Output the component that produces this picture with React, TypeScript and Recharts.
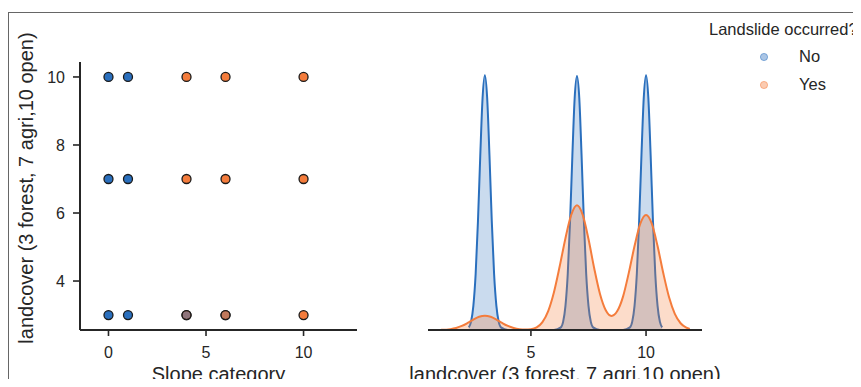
import React from "react";
import {
    ScatterChart,
    Scatter,
    AreaChart,
    Area,
    XAxis,
    YAxis
} from "recharts";

// scatter points (slope category vs landcover), one pair of arrays per group
const noSlope = [0, 1, 0, 1, 0, 1, 4, 6];
const noLandcover = [10, 10, 7, 7, 3, 3, 3, 3];
const yesSlope = [4, 6, 10, 4, 6, 10, 4, 6, 10];
const yesLandcover = [10, 10, 10, 7, 7, 7, 3, 3, 3];

// kde of landcover
const noKdeX = [
    2.3, 2.4, 2.5, 2.6, 2.7, 2.8, 2.9, 3.0, 3.1, 3.2, 3.3, 3.4, 3.5, 3.6, 3.7,
    4.0, 5.0, 6.0,
    6.3, 6.4, 6.5, 6.6, 6.7, 6.8, 6.9, 7.0, 7.1, 7.2, 7.3, 7.4, 7.5, 7.6, 7.7,
    8.0, 8.5, 9.0,
    9.3, 9.4, 9.5, 9.6, 9.7, 9.8, 9.9, 10.0, 10.1, 10.2, 10.3, 10.4, 10.5, 10.6, 10.7
];
const noKdeDensity = [
    0.006, 0.019, 0.055, 0.128, 0.248, 0.397, 0.528, 0.58, 0.528, 0.397, 0.248, 0.128, 0.055, 0.019, 0.006,
    0, 0, 0,
    0.006, 0.019, 0.055, 0.128, 0.248, 0.397, 0.528, 0.578, 0.528, 0.397, 0.248, 0.128, 0.055, 0.019, 0.006,
    0, 0, 0,
    0.006, 0.019, 0.055, 0.128, 0.248, 0.397, 0.528, 0.58, 0.528, 0.397, 0.248, 0.128, 0.055, 0.019, 0.006
];
const yesKdeX = [
    1.1, 1.5, 1.75, 2.0, 2.25, 2.5, 2.75, 3.0, 3.25, 3.5, 3.75, 4.0, 4.25, 4.5, 4.75,
    5.0, 5.25, 5.5, 5.75, 6.0, 6.25, 6.5, 6.75, 7.0, 7.25, 7.5, 7.75, 8.0, 8.25, 8.5,
    8.75, 9.0, 9.25, 9.5, 9.75, 10.0, 10.25, 10.5, 10.75, 11.0, 11.25, 11.5, 11.75, 11.9
];
const yesKdeDensity = [
    0.0003, 0.0019, 0.0046, 0.0092, 0.016, 0.0237, 0.03, 0.0325, 0.03, 0.0237, 0.016, 0.0092, 0.0046, 0.002, 0.0012,
    0.002, 0.006, 0.018, 0.043, 0.086, 0.145, 0.209, 0.262, 0.284, 0.262, 0.207, 0.14, 0.082, 0.045, 0.032,
    0.043, 0.076, 0.13, 0.191, 0.242, 0.262, 0.242, 0.191, 0.129, 0.0744, 0.0367, 0.0154, 0.0055, 0.0025
];

const slopeTicks = [0, 5, 10];
const landcoverTicks = [4, 6, 8, 10];
const kdeTicks = [5, 10];

const noPoints = noSlope.map((s, i) => ({ slope: s, landcover: noLandcover[i] }));
const yesPoints = yesSlope.map((s, i) => ({ slope: s, landcover: yesLandcover[i] }));

const kdeRows = Array.from(new Set([...noKdeX, ...yesKdeX]))
    .sort((a, b) => a - b)
    .map((x) => {
        const ni = noKdeX.indexOf(x);
        const yi = yesKdeX.indexOf(x);
        return {
            x,
            no: ni >= 0 ? noKdeDensity[ni] : null,
            yes: yi >= 0 ? yesKdeDensity[yi] : null
        };
    });

const FONT = "'Liberation Sans', Arial, sans-serif";
const INK = "#262626";
const BLUE = "#2a6fbd";
const ORANGE = "#f47c3c";

// where orange points sit on top of blue ones the reference shows a blend
const yesOverlapOpacity: Record<string, number> = { "4,3": 0.5, "6,3": 0.75 };

const tickStyle = { fontSize: 16, fill: INK, fontFamily: FONT };
const titleStyle = { fontSize: 20, fill: INK, fontFamily: FONT };
const axisLine = { stroke: INK, strokeWidth: 2 };
const tickLine = { stroke: INK, strokeWidth: 1.6 };

const dot = (color: string) => (props: any) => {
    const key = `${props.payload.slope},${props.payload.landcover}`;
    const op = color === ORANGE && yesOverlapOpacity[key] !== undefined ? yesOverlapOpacity[key] : 1;
    return (
        <circle
            cx={props.cx}
            cy={props.cy}
            r={4.5}
            fill={color}
            fillOpacity={op}
            stroke="#1a1a1a"
            strokeWidth={1.3}
        />
    );
};

const App = () => {
    return (
        <div
            style={{
                position: "relative",
                width: 861,
                height: 387,
                margin: -8,
                overflow: "hidden",
                background: "#fff",
                fontFamily: FONT
            }}
        >
            {/* screenshot frame */}
            <div style={{ position: "absolute", left: 8, top: 12, width: 853, height: 1, background: "#666" }} />
            <div style={{ position: "absolute", left: 8, top: 12, width: 1, height: 375, background: "#666" }} />

            <div style={{ position: "absolute", left: 0, top: 0 }}>
                <ScatterChart
                    width={380}
                    height={387}
                    margin={{ top: 62, right: 23, bottom: 27, left: 40 }}
                >
                    <XAxis
                        type="number"
                        dataKey="slope"
                        domain={[-1.46, 12.74]}
                        ticks={slopeTicks}
                        allowDataOverflow
                        height={30}
                        tickSize={6}
                        tickMargin={11}
                        tick={tickStyle}
                        axisLine={axisLine}
                        tickLine={tickLine}
                        label={{
                            value: "Slope category",
                            position: "bottom",
                            offset: 7,
                            style: titleStyle
                        }}
                    />
                    <YAxis
                        type="number"
                        dataKey="landcover"
                        domain={[2.56, 10.44]}
                        ticks={landcoverTicks}
                        allowDataOverflow
                        width={40}
                        tickSize={7}
                        tickMargin={8}
                        tick={tickStyle}
                        axisLine={axisLine}
                        tickLine={tickLine}
                    />
                    <Scatter
                        name="No"
                        data={noPoints}
                        shape={dot(BLUE)}
                        isAnimationActive={false}
                    />
                    <Scatter
                        name="Yes"
                        data={yesPoints}
                        shape={dot(ORANGE)}
                        isAnimationActive={false}
                    />
                </ScatterChart>
            </div>

            <div style={{ position: "absolute", left: 380, top: 0 }}>
                <AreaChart
                    width={481}
                    height={387}
                    data={kdeRows}
                    margin={{ top: 62, right: 159, bottom: 27, left: 8 }}
                >
                    <XAxis
                        type="number"
                        dataKey="x"
                        domain={[0.53, 12.43]}
                        ticks={kdeTicks}
                        allowDataOverflow
                        height={30}
                        tickSize={6}
                        tickMargin={11}
                        tick={tickStyle}
                        axisLine={axisLine}
                        tickLine={tickLine}
                        label={{
                            value: "landcover (3 forest, 7 agri,10 open)",
                            position: "bottom",
                            offset: 7,
                            style: titleStyle
                        }}
                    />
                    <YAxis
                        yAxisId="lc"
                        type="number"
                        domain={[2.56, 10.44]}
                        ticks={landcoverTicks}
                        allowDataOverflow
                        width={40}
                        tickSize={7}
                        tick={false}
                        axisLine={axisLine}
                        tickLine={tickLine}
                    />
                    <YAxis yAxisId="d" type="number" domain={[0, 0.61]} allowDataOverflow hide />
                    <Area
                        yAxisId="d"
                        type="monotone"
                        dataKey="no"
                        connectNulls
                        stroke={BLUE}
                        strokeWidth={2}
                        fill={BLUE}
                        fillOpacity={0.25}
                        isAnimationActive={false}
                    />
                    <Area
                        yAxisId="d"
                        type="monotone"
                        dataKey="yes"
                        connectNulls
                        stroke={ORANGE}
                        strokeWidth={2}
                        fill={ORANGE}
                        fillOpacity={0.27}
                        isAnimationActive={false}
                    />
                </AreaChart>
            </div>

            {/* y axis title and legend */}
            <svg
                width={861}
                height={387}
                style={{ position: "absolute", left: 0, top: 0, pointerEvents: "none" }}
            >
                <text
                    transform="translate(26,188) rotate(-90)"
                    textAnchor="middle"
                    dominantBaseline="central"
                    fontSize={20}
                    fill={INK}
                    fontFamily={FONT}
                >
                    landcover (3 forest, 7 agri,10 open)
                </text>
                <text x={709} y={35} fontSize={16.5} fill={INK} fontFamily={FONT}>
                    Landslide occurred?
                </text>
                <circle cx={764} cy={57} r={3.6} fill={BLUE} fillOpacity={0.4} stroke={BLUE} strokeOpacity={0.5} />
                <text x={799} y={62} fontSize={16.5} fill={INK} fontFamily={FONT}>
                    No
                </text>
                <circle cx={764} cy={85} r={3.6} fill={ORANGE} fillOpacity={0.4} stroke={ORANGE} strokeOpacity={0.5} />
                <text x={799} y={90} fontSize={16.5} fill={INK} fontFamily={FONT}>
                    Yes
                </text>
            </svg>
        </div>
    );
};

export default App;
